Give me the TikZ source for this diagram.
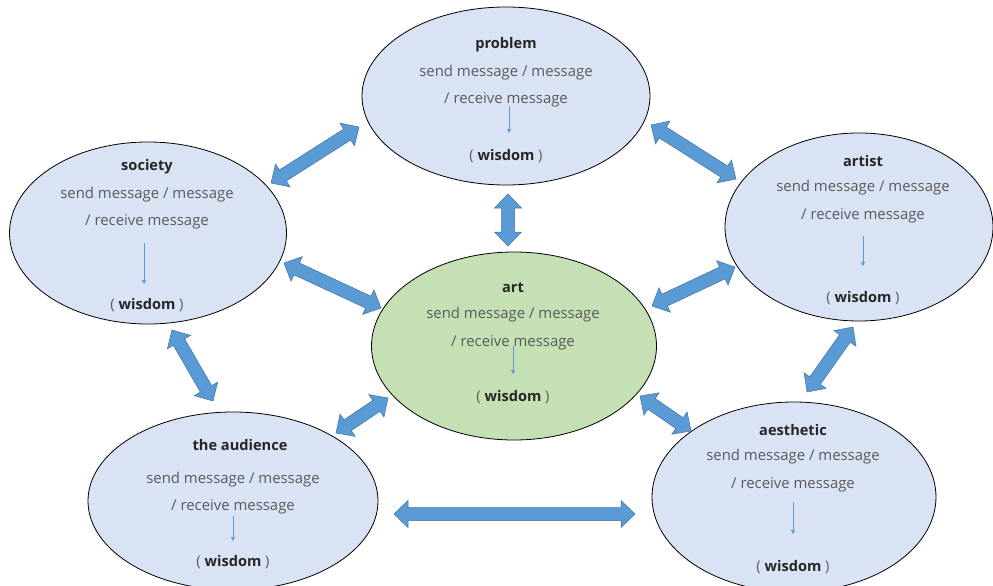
\documentclass[tikz,border=0pt]{standalone}
\usepackage{fontspec}
\setmainfont{Open Sans}
\usetikzlibrary{calc,shapes.geometric,arrows.meta}
\definecolor{ellblue}{HTML}{DAE3F3}
\definecolor{ellgreen}{HTML}{C5E0B4}
\definecolor{arrfill}{HTML}{5B9BD5}
\definecolor{arrline}{HTML}{41719C}
\definecolor{bodygray}{HTML}{5A5A5A}
\definecolor{titlecol}{HTML}{262626}
\newcommand\blockarr[2]{%
\draw[arr] (#1) -- ($(#1)!14pt!(#2)!13.5pt!90:(#2)$) -- ($(#1)!14pt!(#2)!6.5pt!90:(#2)$) -- ($(#2)!14pt!(#1)!6.5pt!-90:(#1)$) -- ($(#2)!14pt!(#1)!13.5pt!-90:(#1)$) -- (#2) -- ($(#2)!14pt!(#1)!13.5pt!90:(#1)$) -- ($(#2)!14pt!(#1)!6.5pt!90:(#1)$) -- ($(#1)!14pt!(#2)!6.5pt!-90:(#2)$) -- ($(#1)!14pt!(#2)!13.5pt!-90:(#2)$) -- cycle;}
\tikzset{
 ell/.style={ellipse, draw=black, line width=0.8pt, fill=ellblue, inner sep=0pt},
 arr/.style={fill=arrfill, draw=arrline, line width=0.5pt, line join=miter},
 ttl/.style={font=\fontsize{14.6}{16}\selectfont\bfseries, text=titlecol, inner sep=0pt},
 body/.style={font=\fontsize{14.9}{16}\selectfont, text=bodygray, inner sep=0pt},
 wis/.style={font=\fontsize{14.6}{16}\selectfont, text=bodygray, inner sep=0pt},
 small/.style={draw=arrfill, line width=0.6pt, -{Triangle[length=4pt,width=4pt]}}
}
\newcommand\wisdomtext{( \textbf{\textcolor{titlecol}{wisdom}} )}
\begin{document}
\begin{tikzpicture}[x=1pt,y=-1pt]
\useasboundingbox (0,0) rectangle (993,586);
% ellipses
\node[ell, minimum width=288pt, minimum height=178pt] (problem) at (506,96) {};
\node[ell, minimum width=277pt, minimum height=182pt] (society) at (148,233) {};
\node[ell, minimum width=268pt, minimum height=188pt] (artist) at (859,227) {};
\node[ell, fill=ellgreen, minimum width=285pt, minimum height=188pt] (art) at (514,346) {};
\node[ell, minimum width=290pt, minimum height=178pt] (audience) at (233,501) {};
\node[ell, minimum width=284pt, minimum height=190pt] (aesthetic) at (794,497) {};
% texts: problem
\node[ttl] (pt) at (506,45) {problem};
\node[body] (p1) at (506,73) {send message / message};
\node[body] (p2) at (506,100) {/ receive message};
\node[wis] (pw) at (506,156) {\wisdomtext};
% society
\node[ttl] (st) at (147,167) {society};
\node[body] (s1) at (147,195) {send message / message};
\node[body] (s2) at (147,222) {/ receive message};
\node[wis] (sw) at (147,305) {\wisdomtext};
% artist
\node[ttl] (at) at (863,161) {artist};
\node[body] (a1) at (863,188) {send message / message};
\node[body] (a2) at (863,216) {/ receive message};
\node[wis] (aw) at (863,298) {\wisdomtext};
% art
\node[ttl] (rt) at (513,288) {art};
\node[body] (r1) at (513,315) {send message / message};
\node[body] (r2) at (513,343) {/ receive message};
\node[wis] (rw) at (513,397) {\wisdomtext};
% audience
\node[ttl] (ut) at (240,445) {the audience};
\node[body] (u1) at (233,480) {send message / message};
\node[body] (u2) at (233,507) {/ receive message};
\node[wis] (uw) at (233,562) {\wisdomtext};
% aesthetic
\node[ttl] (et) at (793,430) {aesthetic};
\node[body] (e1) at (793,457) {send message / message};
\node[body] (e2) at (793,485) {/ receive message};
\node[wis] (ew) at (793,567) {\wisdomtext};
% small inner arrows
\coordinate (ps) at (509,106); \coordinate (pe) at (509,133);
\coordinate (ss) at (144,243); \coordinate (se) at (144,284);
\coordinate (as) at (863,236); \coordinate (ae) at (863,266);
\coordinate (rs) at (513,346); \coordinate (re) at (513,374);
\coordinate (us) at (233,516); \coordinate (ue) at (233,541);
\coordinate (es) at (793,502); \coordinate (ee) at (793,534);
\draw[small] (ps) -- (pe);
\draw[small] (ss) -- (se);
\draw[small] (as) -- (ae);
\draw[small] (rs) -- (re);
\draw[small] (us) -- (ue);
\draw[small] (es) -- (ee);
% block arrow end points
\coordinate (ps1) at (271,183); \coordinate (ps2) at (359,127);
\coordinate (pa1) at (651,125); \coordinate (pa2) at (736,179);
\coordinate (pr1) at (508,194); \coordinate (pr2) at (508,246);
\coordinate (sr1) at (284,263); \coordinate (sr2) at (381,308);
\coordinate (ar1) at (652,306); \coordinate (ar2) at (735,267);
\coordinate (su1) at (172,330); \coordinate (su2) at (213,401);
\coordinate (ru1) at (336,433); \coordinate (ru2) at (388,398);
\coordinate (re1) at (640,396); \coordinate (re2) at (691,431);
\coordinate (ae1) at (853,327); \coordinate (ae2) at (807,392);
\coordinate (ue1) at (394,514); \coordinate (ue2) at (635,514);
\blockarr{ps1}{ps2}
\blockarr{pa1}{pa2}
\blockarr{pr1}{pr2}
\blockarr{sr1}{sr2}
\blockarr{ar1}{ar2}
\blockarr{su1}{su2}
\blockarr{ru1}{ru2}
\blockarr{re1}{re2}
\blockarr{ae1}{ae2}
\blockarr{ue1}{ue2}
\end{tikzpicture}
\end{document}
